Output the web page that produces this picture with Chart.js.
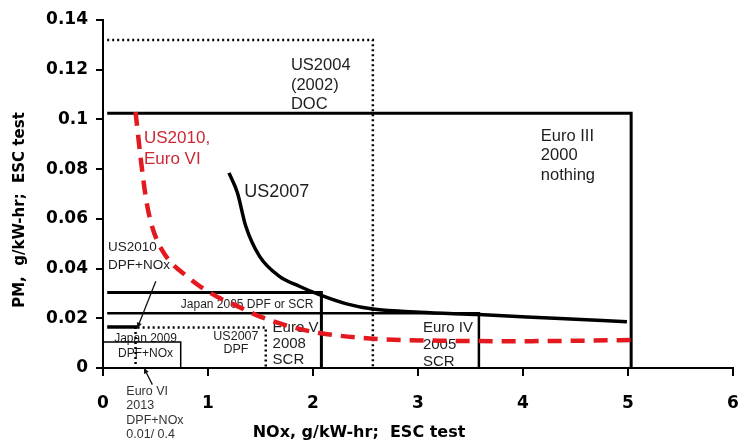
<!DOCTYPE html>
<html lang="en">
<head>
<meta charset="UTF-8" />
<title>PM vs NOx emission limits</title>
<script src="https://cdn.jsdelivr.net/npm/chart.js"></script>
<style>
  html, body { margin: 0; padding: 0; background: #fff; }
  #wrap { width: 738px; height: 443px; }
</style>
</head>
<body>
<div id="wrap"><canvas id="limits" width="738" height="443"></canvas></div>
<script>
  // NOx (g/kW-hr) and PM (g/kW-hr)
  const redNox = [0.31, 0.36, 0.41, 0.46, 0.56, 0.82, 1.08, 1.25, 1.49, 1.80, 2.06, 2.57, 3.2, 3.97, 4.6, 5.08];
  const redPm  = [0.103, 0.084, 0.068, 0.058, 0.0476, 0.0362, 0.0288, 0.0255, 0.0208, 0.0165, 0.0141, 0.0118, 0.011, 0.0108, 0.011, 0.0113];

  const us2007Nox = [1.20, 1.28, 1.36, 1.49, 1.68, 1.87, 2.06, 2.32, 2.57, 3.02, 3.58, 4.3, 4.99];
  const us2007Pm  = [0.0785, 0.0705, 0.057, 0.045, 0.0369, 0.0329, 0.0295, 0.0258, 0.0237, 0.0224, 0.0215, 0.0200, 0.0186];

  const us2004Nox = [0.04, 2.57, 2.57];
  const us2004Pm  = [0.132, 0.132, 0];
  const euro3Nox  = [0.04, 5.03, 5.03];
  const euro3Pm   = [0.1025, 0.1025, 0];
  const japan05Nox = [0.04, 2.08, 2.08];
  const japan05Pm  = [0.0304, 0.0304, 0];
  const euro4Nox  = [0.04, 3.58, 3.58];
  const euro4Pm   = [0.022, 0.022, 0];
  const us2010Nox = [0.04, 0.33];
  const us2010Pm  = [0.0165, 0.0165];
  const us07dpfNox = [0.33, 1.55, 1.55];
  const us07dpfPm  = [0.0163, 0.0163, 0];
  const euro6Nox  = [0.31, 0.31];
  const euro6Pm   = [0.0165, 0];
  const japan09Nox = [0.0, 0.74, 0.74];
  const japan09Pm  = [0.0105, 0.0105, 0];

  const xTicks = [0, 1, 2, 3, 4, 5, 6];
  const yTicks = [0, 0.02, 0.04, 0.06, 0.08, 0.1, 0.12, 0.14];

  // text notes, anchored in data units
  const notes = [
    { lines: ['US2004', '(2002)', 'DOC'], x: 1.79, y: 0.1217, size: 16.5, lh: 19.5 },
    { lines: ['Euro III', '2000', 'nothing'], x: 4.17, y: 0.0933, size: 16.5, lh: 19.5 },
    { lines: ['US2010,', 'Euro VI'], x: 0.39, y: 0.0926, size: 17, lh: 21, color: '#cc2936' },
    { lines: ['US2007'], x: 1.345, y: 0.0707, size: 18, lh: 20 },
    { lines: ['US2010', 'DPF+NOx'], x: 0.048, y: 0.0484, size: 13.5, lh: 18 },
    { lines: ['Japan 2005 DPF or SCR'], x: 0.741, y: 0.0255, size: 12, lh: 14 },
    { lines: ['Japan 2009', 'DPF+NOx'], x: 0.405, y: 0.0117, size: 12, lh: 15, align: 'center' },
    { lines: ['US2007', 'DPF'], x: 1.266, y: 0.0127, size: 12.5, lh: 13.5, align: 'center' },
    { lines: ['Euro V', '2008', 'SCR'], x: 1.615, y: 0.0161, size: 15, lh: 16 },
    { lines: ['Euro IV', '2005', 'SCR'], x: 3.047, y: 0.0161, size: 15, lh: 16.8 },
    { lines: ['Euro VI', '2013', 'DPF+NOx', '0.01/ 0.4'], x: 0.222, y: -0.0094, size: 12.5, lh: 14.5, color: '#333' }
  ];
  const arrows = [
    { from: [0.503, 0.0349], to: [0.327, 0.0161] },
    { from: [0.47, -0.0067], to: [0.39, 0] }
  ];

  const pts = (xs, ys) => xs.map((v, i) => ({ x: v, y: ys[i] }));

  function line(xs, ys, width, dash) {
    return {
      data: pts(xs, ys),
      borderColor: '#000',
      borderWidth: width,
      borderDash: dash || [],
      pointRadius: 0,
      tension: 0,
      fill: false
    };
  }

  const titleFont = 'bold 15px "DejaVu Sans", sans-serif';

  const notesPlugin = {
    id: 'notes',
    beforeDatasetsDraw(chart) {
      const { ctx, scales: { x, y } } = chart;
      ctx.save();
      ctx.textBaseline = 'middle';
      notes.forEach(n => {
        ctx.font = n.size + 'px "Liberation Sans", Arial, sans-serif';
        ctx.fillStyle = n.color || '#1e1e1e';
        ctx.textAlign = n.align || 'left';
        const px = x.getPixelForValue(n.x);
        const py = y.getPixelForValue(n.y);
        n.lines.forEach((t, i) => ctx.fillText(t, px, py + i * n.lh));
      });
      ctx.restore();
    },
    afterDatasetsDraw(chart) {
      const { ctx, scales: { x, y }, chartArea } = chart;
      ctx.save();
      ctx.strokeStyle = '#111';
      ctx.fillStyle = '#111';
      ctx.lineWidth = 1.3;
      arrows.forEach(a => {
        const x0 = x.getPixelForValue(a.from[0]), y0 = y.getPixelForValue(a.from[1]);
        const x1 = x.getPixelForValue(a.to[0]), y1 = y.getPixelForValue(a.to[1]);
        const ang = Math.atan2(y1 - y0, x1 - x0);
        ctx.beginPath();
        ctx.moveTo(x0, y0);
        ctx.lineTo(x1, y1);
        ctx.stroke();
        ctx.beginPath();
        ctx.moveTo(x1, y1);
        ctx.lineTo(x1 - 6 * Math.cos(ang - 0.45), y1 - 6 * Math.sin(ang - 0.45));
        ctx.lineTo(x1 - 6 * Math.cos(ang + 0.45), y1 - 6 * Math.sin(ang + 0.45));
        ctx.closePath();
        ctx.fill();
      });

      // axis titles, placed where the original has them
      ctx.fillStyle = '#000';
      ctx.textAlign = 'center';
      ctx.textBaseline = 'middle';
      ctx.font = 'bold 16px "DejaVu Sans", sans-serif';
      ctx.fillText('NOx, g/kW-hr;  ESC test', chartArea.left + 256, x.bottom - 10);

      ctx.translate(y.left + 20, (chartArea.top + chartArea.bottom) / 2 + 16);
      ctx.rotate(-Math.PI / 2);
      ctx.font = titleFont;
      ctx.fillText('PM,  g/kW-hr;  ESC test', 0, 0);
      ctx.restore();
    }
  };

  const tickFont = { family: '"DejaVu Sans", sans-serif', size: 17, weight: 'bold' };

  new Chart(document.getElementById('limits'), {
    type: 'line',
    data: {
      datasets: [
        {
          data: pts(redNox, redPm),
          borderColor: '#e3191f',
          borderWidth: 4.5,
          borderDash: [14, 9],
          pointRadius: 0,
          cubicInterpolationMode: 'monotone',
          fill: false
        },
        {
          data: pts(us2007Nox, us2007Pm),
          borderColor: '#000',
          borderWidth: 3.5,
          pointRadius: 0,
          cubicInterpolationMode: 'monotone',
          fill: false
        },
        line(us2004Nox, us2004Pm, 2.5, [2, 3]),
        line(euro3Nox, euro3Pm, 3),
        line(japan05Nox, japan05Pm, 3),
        line(euro4Nox, euro4Pm, 2.5),
        line(us2010Nox, us2010Pm, 3.5),
        line(us07dpfNox, us07dpfPm, 2.5, [2, 3]),
        line(euro6Nox, euro6Pm, 2.5, [2, 3]),
        line(japan09Nox, japan09Pm, 1.5)
      ]
    },
    options: {
      responsive: false,
      animation: false,
      layout: { padding: { top: 20, right: 5, left: 0, bottom: 0 } },
      plugins: { legend: { display: false }, tooltip: { enabled: false } },
      scales: {
        x: {
          type: 'linear',
          min: 0,
          max: 6,
          afterBuildTicks: s => { s.ticks = xTicks.map(v => ({ value: v })); },
          ticks: { font: tickFont, color: '#000', padding: 17, maxRotation: 0 },
          grid: { display: true, drawOnChartArea: false, drawTicks: true, tickLength: 8, color: '#000', lineWidth: 2 },
          border: { display: true, color: '#000', width: 2 },
          afterFit: s => {
            s.height = 75;
            s.paddingLeft = 0;
            s.paddingRight = 5;
          }
        },
        y: {
          type: 'linear',
          min: 0,
          max: 0.14,
          afterBuildTicks: s => { s.ticks = yTicks.map(v => ({ value: v })); },
          ticks: {
            font: tickFont,
            color: '#000',
            padding: 8,
            callback: v => String(+v.toFixed(2))
          },
          grid: { display: true, drawOnChartArea: false, drawTicks: true, tickLength: 7, color: '#000', lineWidth: 2 },
          border: { display: true, color: '#000', width: 2 },
          afterFit: s => { s.width = 103; }
        }
      }
    },
    plugins: [notesPlugin]
  });
</script>
</body>
</html>
